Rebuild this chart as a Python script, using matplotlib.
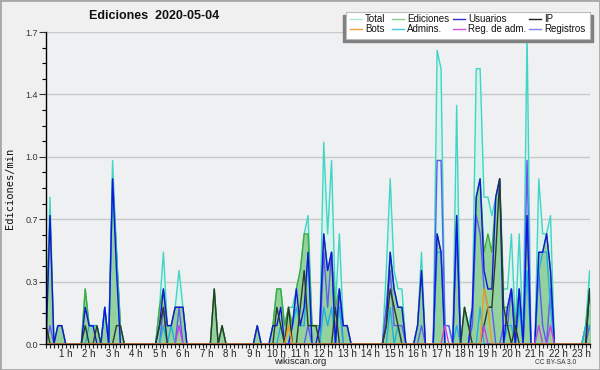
import numpy as np
import matplotlib
matplotlib.use("Agg")
import matplotlib.pyplot as plt
from matplotlib.lines import Line2D
from matplotlib.patches import Rectangle

# 10-minute buckets, edits per minute (one row per hour)
total = [0, 0.1, 0.8, 0, 0.1, 0.1,
         0, 0, 0, 0, 0, 0.3,
         0.1, 0.1, 0.1, 0, 0.2, 0,
         1.0, 0.5, 0.1, 0, 0, 0,
         0, 0, 0, 0, 0, 0,
         0.2, 0.5, 0.1, 0.1, 0.2, 0.4,
         0.2, 0, 0, 0, 0, 0,
         0, 0, 0.3, 0, 0.1, 0,
         0, 0, 0, 0, 0, 0,
         0, 0.1, 0, 0, 0, 0.1,
         0.3, 0.3, 0.1, 0.2, 0.2, 0.3,
         0.4, 0.6, 0.7, 0.1, 0.1, 0.1,
         1.1, 0.6, 1.0, 0.2, 0.6, 0.1,
         0.1, 0, 0, 0, 0, 0,
         0, 0, 0, 0, 0.4, 0.9,
         0.4, 0.3, 0.3, 0, 0, 0,
         0.1, 0.5, 0, 0, 0, 1.6,
         1.5, 0.1, 0.1, 0, 1.3, 0,
         0.2, 0.1, 0.2, 1.5, 1.5, 0.8,
         0.8, 0.7, 0.8, 0.9, 0.3, 0.3,
         0.6, 0.1, 0.6, 0, 1.7, 0,
         0, 0.9, 0.6, 0.6, 0.7, 0,
         0, 0, 0, 0, 0, 0,
         0, 0.1, 0.4, 0, 0, 0]

ediciones = [0, 0.1, 0.7, 0, 0.1, 0.1,
             0, 0, 0, 0, 0, 0.3,
             0.1, 0.1, 0.1, 0, 0.2, 0,
             0.9, 0.5, 0.1, 0, 0, 0,
             0, 0, 0, 0, 0, 0,
             0.2, 0.3, 0.1, 0.1, 0.2, 0.2,
             0.2, 0, 0, 0, 0, 0,
             0, 0, 0.3, 0, 0.1, 0,
             0, 0, 0, 0, 0, 0,
             0, 0.1, 0, 0, 0, 0.1,
             0.3, 0.3, 0.1, 0.2, 0.1, 0.3,
             0.4, 0.6, 0.6, 0.1, 0.1, 0.1,
             0.6, 0.4, 0.5, 0.2, 0.3, 0.1,
             0.1, 0, 0, 0, 0, 0,
             0, 0, 0, 0, 0.2, 0.5,
             0.3, 0.2, 0.2, 0, 0, 0,
             0.1, 0.4, 0, 0, 0, 0.6,
             0.5, 0, 0, 0, 0.7, 0,
             0.2, 0.1, 0.1, 0.8, 0.9, 0.5,
             0.6, 0.5, 0.8, 0.9, 0.2, 0.2,
             0.3, 0.1, 0.3, 0, 0.7, 0,
             0, 0.5, 0.5, 0.6, 0.4, 0,
             0, 0, 0, 0, 0, 0,
             0, 0.1, 0.3, 0, 0, 0]

usuarios = [0, 0, 0.7, 0, 0.1, 0.1,
            0, 0, 0, 0, 0, 0.2,
            0.1, 0.1, 0, 0, 0.2, 0,
            0.9, 0.4, 0, 0, 0, 0,
            0, 0, 0, 0, 0, 0,
            0.1, 0.3, 0.1, 0.1, 0.2, 0.2,
            0.2, 0, 0, 0, 0, 0,
            0, 0, 0, 0, 0, 0,
            0, 0, 0, 0, 0, 0,
            0, 0.1, 0, 0, 0, 0.1,
            0.1, 0.2, 0, 0, 0.1, 0.3,
            0.1, 0.2, 0.5, 0, 0, 0.1,
            0.6, 0.4, 0.5, 0, 0.3, 0.1,
            0.1, 0, 0, 0, 0, 0,
            0, 0, 0, 0, 0.1, 0.5,
            0.3, 0.2, 0.2, 0, 0, 0,
            0.1, 0.4, 0, 0, 0, 0.6,
            0.5, 0, 0, 0, 0.7, 0,
            0, 0, 0.2, 0.8, 0.9, 0.4,
            0.3, 0.3, 0.8, 0.9, 0, 0.2,
            0.3, 0, 0.3, 0, 0.7, 0,
            0, 0.5, 0.5, 0.6, 0.4, 0,
            0, 0, 0, 0, 0, 0,
            0, 0, 0.3, 0, 0, 0]

ip = [0, 0.1, 0, 0, 0, 0,
      0, 0, 0, 0, 0, 0.1,
      0, 0, 0.1, 0, 0, 0,
      0, 0.1, 0.1, 0, 0, 0,
      0, 0, 0, 0, 0, 0,
      0.1, 0.2, 0, 0, 0, 0,
      0, 0, 0, 0, 0, 0,
      0, 0, 0.3, 0, 0.1, 0,
      0, 0, 0, 0, 0, 0,
      0, 0, 0, 0, 0, 0,
      0.2, 0.1, 0, 0.2, 0, 0,
      0.2, 0.4, 0.1, 0.1, 0.1, 0,
      0, 0, 0, 0.2, 0, 0,
      0, 0, 0, 0, 0, 0,
      0, 0, 0, 0, 0.1, 0.3,
      0.2, 0.1, 0, 0, 0, 0,
      0, 0, 0, 0, 0, 0,
      0, 0, 0, 0, 0, 0,
      0.2, 0.1, 0, 0, 0, 0.1,
      0.2, 0.2, 0.5, 0.9, 0.2, 0.1,
      0, 0.1, 0, 0, 0, 0,
      0, 0, 0, 0, 0, 0,
      0, 0, 0, 0, 0, 0,
      0, 0, 0.3, 0, 0, 0]

admins = [0, 0, 0, 0, 0, 0,
          0, 0, 0, 0, 0, 0,
          0.1, 0.1, 0.1, 0, 0.2, 0,
          0.9, 0.5, 0, 0, 0, 0,
          0, 0, 0, 0, 0, 0,
          0, 0.1, 0, 0.1, 0, 0,
          0, 0, 0, 0, 0, 0,
          0, 0, 0, 0, 0, 0,
          0, 0, 0, 0, 0, 0,
          0, 0, 0, 0, 0, 0,
          0, 0.1, 0, 0, 0.1, 0.2,
          0.1, 0.1, 0.5, 0, 0, 0,
          0.2, 0.1, 0.2, 0, 0.2, 0,
          0, 0, 0, 0, 0, 0,
          0, 0, 0, 0, 0, 0.2,
          0, 0.1, 0, 0, 0, 0,
          0, 0, 0, 0, 0, 0.5,
          0.5, 0, 0, 0, 0.1, 0,
          0, 0, 0, 0, 0.2, 0,
          0, 0, 0, 0, 0, 0.1,
          0.1, 0, 0.2, 0, 0.4, 0,
          0, 0.4, 0.5, 0.5, 0.2, 0,
          0, 0, 0, 0, 0, 0,
          0, 0.1, 0.1, 0, 0, 0]

registros = [0, 0, 0.1, 0, 0, 0,
             0, 0, 0, 0, 0, 0,
             0, 0, 0, 0, 0, 0,
             0, 0, 0, 0, 0, 0,
             0, 0, 0, 0, 0, 0,
             0, 0.2, 0, 0, 0, 0.2,
             0, 0, 0, 0, 0, 0,
             0, 0, 0, 0, 0, 0,
             0, 0, 0, 0, 0, 0,
             0, 0, 0, 0, 0, 0,
             0, 0, 0, 0, 0, 0,
             0, 0, 0.1, 0, 0, 0,
             0.5, 0.2, 0.5, 0, 0.3, 0,
             0, 0, 0, 0, 0, 0,
             0, 0, 0, 0, 0.2, 0.4,
             0.1, 0.1, 0.1, 0, 0, 0,
             0, 0.1, 0, 0, 0, 1.0,
             1.0, 0.1, 0.1, 0, 0.6, 0,
             0, 0, 0.1, 0.7, 0.6, 0.3,
             0.2, 0.2, 0, 0, 0.1, 0.1,
             0.3, 0, 0.3, 0, 1.0, 0,
             0, 0.4, 0.1, 0, 0.3, 0,
             0, 0, 0, 0, 0, 0,
             0, 0, 0.1, 0, 0, 0]

# sparse series: index -> value
bots = {63: 0.1, 113: 0.3, 114: 0.2}
reg_adm = {35: 0.1, 103: 0.1, 113: 0.1, 127: 0.1, 130: 0.1}

hours = list(range(1, 24))
hour_labels = [f"{h} h" for h in hours]
ytick_vals = [0, 0.34, 0.68, 1.02, 1.36, 1.7]
ytick_labels = ["0.0", "0.3", "0.7", "1.0", "1.4", "1.7"]

W, H = 600, 370
SANS = "Liberation Sans"


def fx(px):
    return px / W


def fy(py):
    return 1 - py / H


def sparse(d):
    out = np.zeros(144)
    for k, v in d.items():
        out[k] = v
    return out


x = np.arange(144)

fig = plt.figure(figsize=(6, 3.7), dpi=100)
fig.patch.set_facecolor("#f0f0f0")
ax = fig.add_axes([fx(46), fy(344), fx(590) - fx(46), fy(32) - fy(344)])
ax.set_facecolor("#eef0f2")

ax.fill_between(x, total, color="#d9f2ec", lw=0, zorder=1)
ax.plot(x, total, color="#3fd6c6", lw=1.0, zorder=2)
ax.fill_between(x, ediciones, color="#5cb85c", alpha=0.55, lw=0, zorder=3)
ax.plot(x, ediciones, color="#3cae3c", lw=1.0, zorder=4)
ax.plot(x, registros, color="#5c5cf0", lw=1.0, zorder=5)
ax.plot(x, admins, color="#1fb0e0", lw=1.0, zorder=6)
ax.plot(x, usuarios, color="#1414e0", lw=1.0, zorder=7)
ax.plot(x, ip, color="#2b3b2b", lw=1.0, zorder=8)
ax.plot(x, sparse(reg_adm), color="#c840e0", lw=1.0, zorder=9)
ax.plot(x, sparse(bots), color="#f39a1e", lw=1.0, zorder=9)

ax.set_xlim(0.97, 140.1)
ax.set_ylim(0, 1.7)
for s in ["top", "right"]:
    ax.spines[s].set_visible(False)
for s in ["left", "bottom"]:
    ax.spines[s].set_zorder(20)
    ax.spines[s].set_linewidth(1.0)

ax.set_xticks([6 * h for h in hours])
ax.set_xticklabels(hour_labels, family=SANS)
ax.set_xticks(np.arange(1, 141), minor=True)
ax.tick_params(axis="x", which="both", direction="out", length=3, width=0.8,
               labelsize=7, pad=0.5, colors="#222222")
ax.set_yticks(ytick_vals)
ax.set_yticklabels(ytick_labels, family=SANS)
ax.set_yticks(np.arange(0, 1.71, 0.085), minor=True)
ax.tick_params(axis="y", which="major", direction="out", length=5, width=0.8,
               labelsize=6.5, pad=1, colors="#333333")
ax.tick_params(axis="y", which="minor", direction="out", length=3, width=0.8)
ax.grid(axis="y", color="#c8c8c8", lw=1.0, zorder=0)
ax.set_axisbelow(True)

fig.text(fx(154), fy(16), "Ediciones  2020-05-04", ha="center", va="center",
         fontsize=9, fontweight="bold", family=SANS, color="#111111")
fig.text(fx(10), fy(188), "Ediciones/min", rotation=90, ha="center", va="center",
         fontsize=7.5, family="DejaVu Sans Mono", color="#111111")
fig.text(fx(300), fy(362), "wikiscan.org", ha="center", va="center",
         fontsize=6.8, family=SANS, color="#222222")
fig.text(fx(556), fy(362), "CC BY-SA 3.0", ha="center", va="center",
         fontsize=4.8, family=SANS, color="#333333")

# legend box with shadow
fig.patches.append(Rectangle((fx(343), fy(42)), fx(593) - fx(343), fy(15) - fy(42),
                             transform=fig.transFigure, color="#808080", zorder=30))
fig.patches.append(Rectangle((fx(346), fy(39)), fx(590) - fx(346), fy(12) - fy(39),
                             transform=fig.transFigure, facecolor="white",
                             edgecolor="#bbbbbb", lw=0.8, zorder=31))
legend_items = [
    ("Total", "#a8e6de", 350, 19), ("Ediciones", "#84d084", 392, 19),
    ("Usuarios", "#3030d0", 453, 19), ("IP", "#202020", 529, 19),
    ("Bots", "#f0a040", 350, 29), ("Admins.", "#40c8e0", 392, 29),
    ("Reg. de adm.", "#d050e0", 453, 29), ("Registros", "#8080f0", 529, 29),
]
for name, col, px, py in legend_items:
    fig.lines.append(Line2D([fx(px), fx(px + 12)], [fy(py), fy(py)],
                            transform=fig.transFigure, color=col, lw=1.0, zorder=32))
    fig.text(fx(px + 15), fy(py), name, ha="left", va="center", fontsize=7,
             family=SANS, color="#111111", zorder=33)

fig.patches.append(Rectangle((0, 0), 1, 1, transform=fig.transFigure, fill=False,
                             edgecolor="#a8a8a8", lw=2, zorder=40))

fig.savefig("out.png", dpi=100, facecolor=fig.get_facecolor())
